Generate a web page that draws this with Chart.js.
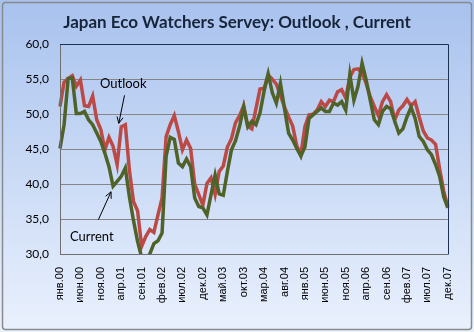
<!DOCTYPE html>
<html>
<head>
<meta charset="utf-8">
<script src="https://cdn.jsdelivr.net/npm/chart.js"></script>
<style>
    body { margin: 0; background: #ffffff; }
    canvas { display: block; }
</style>
</head>
<body>
<canvas id="grafico" width="474" height="332"></canvas>
<script>
let nombresMeses = ['янв', 'фев', 'мар', 'апр', 'май', 'июн', 'июл', 'авг', 'сен', 'окт', 'ноя', 'дек'];
let anios = ['00', '01', '02', '03', '04', '05', '06', '07'];

let outlook = [
    51.1, 54.6, 55.1, 55.5, 54.0, 54.9, 51.2, 51.1, 52.6, 49.2, 47.8, 44.9,
    46.7, 45.4, 42.8, 48.2, 48.5, 42.0, 37.5, 36.2, 31.1, 32.5, 33.5, 33.1,
    35.6, 38.0, 46.8, 48.5, 49.8, 47.5, 44.9, 46.3, 45.1, 40.0, 38.5, 37.0,
    40.1, 40.9, 38.5, 41.8, 42.6, 45.3, 46.5, 48.8, 49.8, 51.2, 48.3, 47.9,
    50.8, 53.6, 53.7, 55.6, 55.0, 54.3, 52.7, 51.0, 49.6, 48.3, 45.5, 44.2,
    48.2, 49.9, 50.0, 50.6, 51.8, 51.1, 52.0, 51.8, 53.2, 53.5, 52.3, 55.3,
    56.4, 56.5, 55.9, 54.4, 52.5, 51.1, 49.8, 51.8, 52.8, 51.8, 49.2, 50.6,
    51.2, 52.1, 51.2, 51.8, 49.6, 47.6, 46.6, 46.3, 45.7, 42.2, 39.0, 36.8
];

let current = [
    45.1, 48.5, 55.1, 55.2, 50.1, 50.1, 50.4, 49.2, 48.5, 47.3, 46.1, 44.4,
    42.5, 39.7, 40.4, 41.1, 42.3, 38.2, 34.8, 31.8, 29.5, 29.0, 30.0, 31.5,
    31.9, 33.0, 44.0, 46.7, 46.4, 43.0, 42.5, 43.6, 42.5, 38.0, 36.8, 36.6,
    35.6, 38.5, 41.3, 38.6, 38.4, 41.8, 44.9, 46.2, 48.3, 51.0, 48.2, 49.0,
    48.5, 50.2, 53.3, 55.8, 53.1, 51.6, 54.4, 50.8, 47.3, 46.3, 45.1, 44.0,
    45.3, 49.4, 49.9, 50.4, 50.9, 50.4, 50.4, 51.6, 51.3, 51.8, 50.6, 55.7,
    52.0, 54.0, 57.3, 54.9, 52.0, 49.2, 48.5, 50.4, 51.1, 50.8, 49.0, 47.3,
    47.9, 49.6, 51.0, 49.4, 46.8, 46.1, 44.9, 44.2, 42.8, 41.1, 38.2, 36.6
];

let etiquetas = [];
for (let a = 0; a < anios.length; a++) {
    for (let m = 0; m < nombresMeses.length; m++) {
        etiquetas.push(nombresMeses[m] + '.' + anios[a]);
    }
}

// notas con flecha, en unidades de los datos (indice de mes, valor)
let notas = [
    { texto: 'Outlook', x: 15.5, y: 54.3, desde: [15.8, 52.7], hasta: [14.4, 48.7] },
    { texto: 'Current', x: 7.8, y: 32.5, desde: [9.4, 34.9], hasta: [12.5, 38.9] }
];

let fondoPlugin = {
    id: 'fondo',
    beforeDraw: function(chart) {
        let ctx = chart.ctx;
        let w = chart.width;
        let h = chart.height;
        ctx.save();
        let grad = ctx.createLinearGradient(0, 0, 0, h);
        grad.addColorStop(0, '#a8c2ee');
        grad.addColorStop(1, '#eaf1fd');
        ctx.fillStyle = grad;
        ctx.fillRect(0, 0, w, h);
        ctx.strokeStyle = '#8a8a8a';
        ctx.lineWidth = 1.5;
        ctx.beginPath();
        ctx.roundRect(2.5, 2.5, w - 5, h - 5, 3);
        ctx.stroke();
        ctx.restore();
    },
    afterDraw: function(chart) {
        let ctx = chart.ctx;
        let area = chart.chartArea;
        let sx = chart.scales.x;
        let sy = chart.scales.y;
        ctx.save();

        // borde del area de trazado
        ctx.lineWidth = 1;
        ctx.strokeStyle = '#6f6f6f';
        ctx.beginPath();
        ctx.moveTo(Math.round(area.left) + 0.5, Math.round(area.top));
        ctx.lineTo(Math.round(area.left) + 0.5, Math.round(area.bottom) + 0.5);
        ctx.lineTo(Math.round(area.right), Math.round(area.bottom) + 0.5);
        ctx.stroke();
        ctx.strokeStyle = '#1f3150';
        ctx.beginPath();
        ctx.moveTo(Math.round(area.left), Math.round(area.top) + 0.5);
        ctx.lineTo(Math.round(area.right) + 0.5, Math.round(area.top) + 0.5);
        ctx.lineTo(Math.round(area.right) + 0.5, Math.round(area.bottom) + 0.5);
        ctx.stroke();

        // notas
        ctx.font = '13px Lato';
        ctx.fillStyle = '#000000';
        ctx.textAlign = 'center';
        ctx.textBaseline = 'middle';
        for (let i = 0; i < notas.length; i++) {
            let n = notas[i];
            ctx.fillText(n.texto, sx.getPixelForValue(n.x), sy.getPixelForValue(n.y));
            let x1 = sx.getPixelForValue(n.desde[0]);
            let y1 = sy.getPixelForValue(n.desde[1]);
            let x2 = sx.getPixelForValue(n.hasta[0]);
            let y2 = sy.getPixelForValue(n.hasta[1]);
            ctx.strokeStyle = '#000000';
            ctx.lineWidth = 1;
            ctx.beginPath();
            ctx.moveTo(x1, y1);
            ctx.lineTo(x2, y2);
            let ang = Math.atan2(y2 - y1, x2 - x1);
            let largo = 7;
            ctx.moveTo(x2 - largo * Math.cos(ang - 0.45), y2 - largo * Math.sin(ang - 0.45));
            ctx.lineTo(x2, y2);
            ctx.lineTo(x2 - largo * Math.cos(ang + 0.45), y2 - largo * Math.sin(ang + 0.45));
            ctx.stroke();
        }
        ctx.restore();
    }
};

function formatearEje(valor) {
    return valor.toFixed(1).replace('.', ',');
}

let ctx = document.getElementById('grafico');

new Chart(ctx, {
    type: 'line',
    data: {
        labels: etiquetas,
        datasets: [
            {
                label: 'Outlook',
                data: outlook,
                borderColor: '#bb4a47',
                borderWidth: 3.5,
                pointRadius: 0,
                tension: 0,
                order: 1,
                clip: { left: 4, right: 4, top: 4, bottom: 0 }
            },
            {
                label: 'Current',
                data: current,
                borderColor: '#4f6228',
                borderWidth: 3.5,
                pointRadius: 0,
                tension: 0,
                order: 0,
                clip: { left: 4, right: 4, top: 4, bottom: 0 }
            }
        ]
    },
    options: {
        responsive: false,
        animation: false,
        events: [],
        layout: { padding: 0 },
        plugins: {
            legend: { display: false },
            tooltip: { enabled: false },
            title: {
                display: true,
                text: 'Japan Eco Watchers Servey: Outlook , Current',
                color: '#17243a',
                font: { family: 'Lato', size: 17, weight: 'bold' },
                padding: { top: 12.5, bottom: 11.4 }
            }
        },
        scales: {
            x: {
                grid: { display: false, drawTicks: false },
                border: { display: false },
                ticks: {
                    autoSkip: false,
                    minRotation: 90,
                    maxRotation: 90,
                    padding: 13,
                    color: '#000000',
                    font: { family: 'Liberation Sans', size: 11 },
                    callback: function(valor, indice) {
                        if (indice % 5 === 0) {
                            return etiquetas[indice];
                        }
                        return '';
                    }
                },
                afterFit: function(escala) {
                    escala.height = 78;
                }
            },
            y: {
                min: 30,
                max: 60,
                grid: { color: '#868686', drawTicks: false },
                border: { display: false },
                ticks: {
                    stepSize: 5,
                    padding: 11,
                    color: '#000000',
                    font: { family: 'Lato', size: 12 },
                    callback: function(valor) {
                        return formatearEje(valor);
                    }
                },
                afterFit: function(escala) {
                    escala.width = 60;
                }
            },
            derecha: {
                position: 'right',
                grid: { display: false, drawTicks: false },
                border: { display: false },
                ticks: { display: false },
                afterFit: function(escala) {
                    escala.width = 23;
                }
            }
        }
    },
    plugins: [fondoPlugin]
});
</script>
</body>
</html>
